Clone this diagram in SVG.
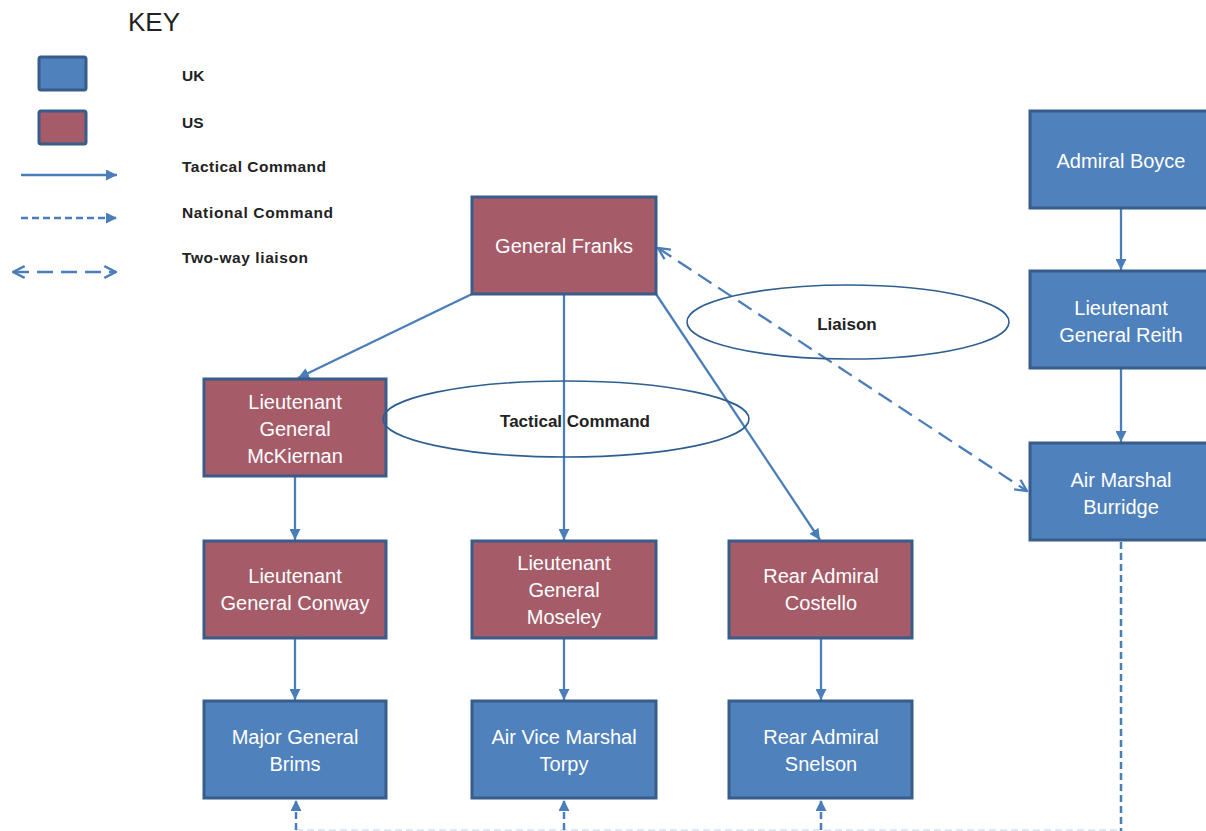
<svg xmlns="http://www.w3.org/2000/svg" width="1206" height="831" viewBox="0 0 1206 831">
<style>
.uk{fill:#4F81BD;stroke:#385D8A;stroke-width:3}
.us{fill:#A55B68;stroke:#385D8A;stroke-width:3}
.nt{font-family:"Liberation Sans",Arial,sans-serif;font-size:20px;fill:#fff;text-anchor:middle}
.kt{font-family:"Liberation Sans",Arial,sans-serif;font-size:15.5px;font-weight:bold;fill:#222}
.el{fill:none;stroke:#2F5F91;stroke-width:1.6}
.et{font-family:"Liberation Sans",Arial,sans-serif;font-size:17px;font-weight:bold;fill:#222;text-anchor:middle}
.c{stroke:#4A7EBB;stroke-width:2.3;fill:none}
.cd{stroke:#4A7EBB;stroke-width:2.5;fill:none;stroke-dasharray:7 4}
.lz{stroke:#4A7EBB;stroke-width:2.3;fill:none;stroke-dasharray:16 8}
</style>
<defs>
<marker id="ah" viewBox="0 0 10 10" refX="10" refY="5" markerWidth="11" markerHeight="11" markerUnits="userSpaceOnUse" orient="auto-start-reverse">
<path d="M0,0 L10,5 L0,10 z" fill="#4A7EBB"/>
</marker>
<marker id="ov" viewBox="0 0 12 12" refX="11" refY="6" markerWidth="14" markerHeight="14" markerUnits="userSpaceOnUse" orient="auto-start-reverse">
<path d="M1,1 L11,6 L1,11" fill="none" stroke="#4A7EBB" stroke-width="2"/>
</marker>
</defs>
<rect width="1206" height="831" fill="#fff"/>

<g id="key">
<text x="128" y="31" font-family="Liberation Sans,Arial,sans-serif" font-size="26" fill="#222">KEY</text>
<rect class="uk" x="39" y="57" width="47" height="33" rx="2"/>
<rect class="us" x="39" y="111" width="47" height="33" rx="2"/>
<text class="kt" x="182" y="81">UK</text>
<text class="kt" x="182" y="128">US</text>
<text class="kt" x="182" y="172" textLength="144">Tactical Command</text>
<text class="kt" x="182" y="218" textLength="151">National Command</text>
<text class="kt" x="182" y="263" textLength="126">Two-way liaison</text>
<line class="c" x1="21" y1="175" x2="117" y2="175" marker-end="url(#ah)"/>
<line class="cd" x1="21" y1="218" x2="117" y2="218" marker-end="url(#ah)" stroke-dasharray="6 4"/>
<line class="lz" x1="13" y1="272" x2="116" y2="272" marker-start="url(#ov)" marker-end="url(#ov)" stroke-dasharray="14 10"/>
</g>

<g id="connectors">
<line class="c" x1="472" y1="294" x2="298" y2="378" marker-end="url(#ah)"/>
<line class="c" x1="564" y1="294" x2="564" y2="540" marker-end="url(#ah)"/>
<line class="c" x1="656" y1="294" x2="820" y2="540" marker-end="url(#ah)"/>
<line class="c" x1="295" y1="477" x2="295" y2="540" marker-end="url(#ah)"/>
<line class="c" x1="295" y1="638" x2="295" y2="700" marker-end="url(#ah)"/>
<line class="c" x1="564" y1="638" x2="564" y2="700" marker-end="url(#ah)"/>
<line class="c" x1="821" y1="638" x2="821" y2="700" marker-end="url(#ah)"/>
<line class="c" x1="1121" y1="209" x2="1121" y2="270" marker-end="url(#ah)"/>
<line class="c" x1="1121" y1="369" x2="1121" y2="442" marker-end="url(#ah)"/>
<line class="lz" x1="658" y1="248" x2="1027" y2="491" marker-start="url(#ov)" marker-end="url(#ov)"/>
<line class="cd" x1="1121" y1="542" x2="1121" y2="831"/>
<line x1="296" y1="830" x2="1119" y2="830" stroke="#D5E1F0" stroke-width="1.5" stroke-dasharray="7 4"/>
<line class="cd" x1="296" y1="830" x2="296" y2="800" marker-end="url(#ah)"/>
<line class="cd" x1="564" y1="830" x2="564" y2="800" marker-end="url(#ah)"/>
<line class="cd" x1="821" y1="830" x2="821" y2="800" marker-end="url(#ah)"/>
</g>

<g id="franks"><rect class="us" x="472" y="197" width="184" height="97"/><text class="nt" x="564" y="253">General Franks</text></g>
<g id="mckiernan"><rect class="us" x="204" y="379" width="182" height="97"/><text class="nt" x="295" y="409">Lieutenant</text><text class="nt" x="295" y="436">General</text><text class="nt" x="295" y="463">McKiernan</text></g>
<g id="conway"><rect class="us" x="204" y="541" width="182" height="97"/><text class="nt" x="295" y="583">Lieutenant</text><text class="nt" x="295" y="610">General Conway</text></g>
<g id="moseley"><rect class="us" x="472" y="541" width="184" height="97"/><text class="nt" x="564" y="570">Lieutenant</text><text class="nt" x="564" y="597">General</text><text class="nt" x="564" y="624">Moseley</text></g>
<g id="costello"><rect class="us" x="729" y="541" width="183" height="97"/><text class="nt" x="821" y="583">Rear Admiral</text><text class="nt" x="821" y="610">Costello</text></g>
<g id="brims"><rect class="uk" x="204" y="701" width="182" height="97"/><text class="nt" x="295" y="744">Major General</text><text class="nt" x="295" y="771">Brims</text></g>
<g id="torpy"><rect class="uk" x="472" y="701" width="184" height="97"/><text class="nt" x="564" y="744">Air Vice Marshal</text><text class="nt" x="564" y="771">Torpy</text></g>
<g id="snelson"><rect class="uk" x="729" y="701" width="183" height="97"/><text class="nt" x="821" y="744">Rear Admiral</text><text class="nt" x="821" y="771">Snelson</text></g>
<g id="boyce"><rect class="uk" x="1030" y="111" width="182" height="97"/><text class="nt" x="1121" y="168">Admiral Boyce</text></g>
<g id="reith"><rect class="uk" x="1030" y="271" width="182" height="97"/><text class="nt" x="1121" y="315">Lieutenant</text><text class="nt" x="1121" y="342">General Reith</text></g>
<g id="burridge"><rect class="uk" x="1030" y="443" width="182" height="97"/><text class="nt" x="1121" y="487">Air Marshal</text><text class="nt" x="1121" y="514">Burridge</text></g>

<g id="tactical-label"><ellipse class="el" cx="566" cy="419" rx="183" ry="38"/><text class="et" x="575" y="427">Tactical  Command</text></g>
<g id="liaison-label"><ellipse class="el" cx="848" cy="322" rx="161" ry="37"/><text class="et" x="847" y="330">Liaison</text></g>
</svg>
